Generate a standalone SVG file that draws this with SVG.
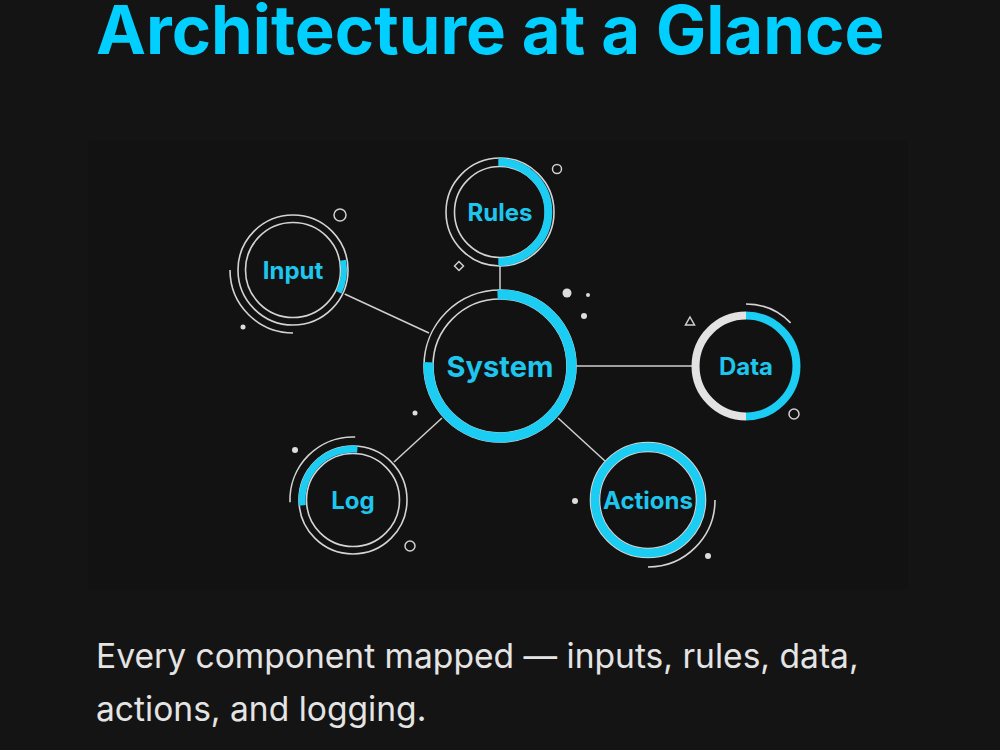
<svg xmlns="http://www.w3.org/2000/svg" width="1000" height="750" viewBox="0 0 1000 750">
<style>
.ring{fill:none;stroke:#d4d4d4;stroke-width:1.6}
.arc{fill:none;stroke:#1ccdf3;stroke-linecap:butt}
.conn{stroke:#cfcfcf;stroke-width:1.5;fill:none}
.lbl{font-family:Inter,"Noto Sans",sans-serif;font-weight:700;fill:#1ec6ee;text-anchor:middle;dominant-baseline:central}
.dot{fill:#dcdcdc}
.hol{fill:none;stroke:#d0d0d0;stroke-width:1.5}
</style>
<rect x="0" y="0" width="1000" height="750" fill="#141414"/>
<rect x="88" y="140" width="820" height="450" rx="6" fill="#121212"/>
<text x="96" y="54" font-family="Inter,'Noto Sans',sans-serif" font-weight="700" font-size="67" fill="#00cfff">Architecture at a Glance</text>
<text font-family="Inter,'Noto Sans',sans-serif" font-size="33.6" fill="#e4e4e4"><tspan x="96" y="668">Every component mapped — inputs, rules, data,</tspan><tspan x="96" y="721">actions, and logging.</tspan></text>

<g id="connectors">
<line class="conn" x1="344.7" y1="294" x2="429" y2="333"/>
<line class="conn" x1="500" y1="266" x2="500" y2="290"/>
<line class="conn" x1="576" y1="366" x2="692" y2="366"/>
<line class="conn" x1="394" y1="462" x2="442" y2="418"/>
<line class="conn" x1="558" y1="418" x2="605" y2="461"/>
</g>

<g id="system">
<circle class="ring" cx="500" cy="366" r="76"/>
<circle class="ring" cx="500" cy="366" r="67"/>
<path class="arc" stroke-width="10" d="M497.5,294.5 A71.5,71.5 0 1 1 428.6,362.3"/>
<text class="lbl" x="500" y="366" font-size="29">System</text>
</g>

<g id="rules">
<circle class="ring" cx="500" cy="212" r="54"/>
<circle class="ring" cx="500" cy="212" r="45.5"/>
<path class="arc" stroke-width="8" d="M498.3,162 A50,50 0 1 1 498.3,262"/>
<text class="lbl" x="500" y="212" font-size="24">Rules</text>
</g>

<g id="input">
<circle class="ring" cx="293" cy="270" r="55"/>
<circle class="ring" cx="293" cy="270" r="47.5"/>
<path class="arc" stroke-width="6" d="M343.1,260.3 A51,51 0 0 1 338.8,292.4"/>
<path class="ring" d="M293,333 A63,63 0 0 1 230,270"/>
<text class="lbl" x="293" y="270" font-size="24">Input</text>
</g>

<g id="data">
<path fill="none" stroke="#e2e2e2" stroke-width="8" d="M746,416.5 A50.5,50.5 0 0 1 746,315.5"/>
<path class="arc" stroke-width="8" d="M746,315.5 A50.5,50.5 0 0 1 746,416.5"/>
<path class="ring" d="M746,304 A62,62 0 0 1 790.6,322.9"/>
<text class="lbl" x="746" y="366" font-size="24">Data</text>
</g>

<g id="log">
<circle class="ring" cx="353" cy="500" r="54"/>
<circle class="ring" cx="353" cy="500" r="46.5"/>
<path class="arc" stroke-width="7" d="M302.3,505.3 A51,51 0 0 1 357.4,449.2"/>
<path class="ring" d="M290,502.2 A63,63 0 0 1 355.2,437"/>
<text class="lbl" x="353" y="500" font-size="24">Log</text>
</g>

<g id="actions">
<circle class="ring" cx="648" cy="500" r="57.5"/>
<circle class="ring" cx="648" cy="500" r="48.5"/>
<circle class="arc" cx="648" cy="500" r="53" stroke-width="8.5"/>
<path class="ring" d="M715,500 A67,67 0 0 1 648,567"/>
<text class="lbl" x="648" y="500" font-size="24">Actions</text>
</g>

<g id="decorations">
<circle class="hol" cx="340" cy="215" r="6"/>
<circle class="dot" cx="243" cy="327" r="2.5"/>
<circle class="hol" cx="557" cy="169" r="4.5"/>
<polygon class="hol" points="459,261.5 463.5,266 459,270.5 454.5,266"/>
<circle class="dot" cx="567" cy="293" r="4.5"/>
<circle class="dot" cx="588" cy="295" r="2"/>
<circle class="dot" cx="584" cy="316" r="3"/>
<circle class="dot" cx="415" cy="413" r="2.5"/>
<polygon class="hol" points="690,317 694.5,325 685.5,325"/>
<circle class="hol" cx="794" cy="414" r="5"/>
<circle class="dot" cx="295" cy="450" r="3"/>
<circle class="hol" cx="410" cy="546" r="5"/>
<circle class="dot" cx="575" cy="501" r="3"/>
<circle class="dot" cx="708" cy="556" r="3"/>
</g>
</svg>
